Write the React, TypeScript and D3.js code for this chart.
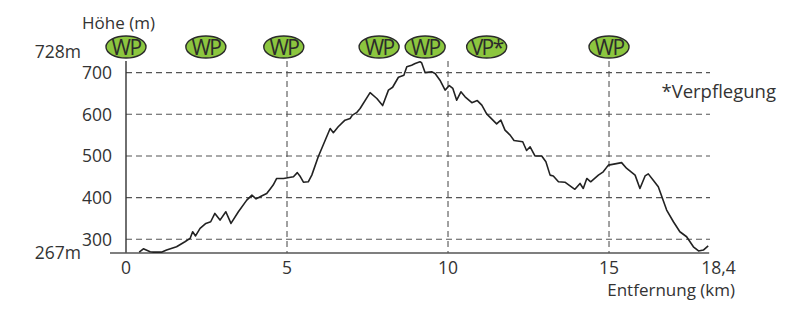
import React from "react";
import * as d3 from "d3";

const distKm = [0.41, 0.54, 0.75, 0.85, 1.1, 1.26, 1.57, 1.83, 1.99, 2.07, 2.16, 2.3, 2.48, 2.63, 2.76, 2.92, 3.1, 3.26, 3.49, 3.75, 3.91, 4.04, 4.21, 4.37, 4.49, 4.57, 4.68, 4.89, 5.2, 5.32, 5.4, 5.51, 5.66, 5.77, 5.97, 6.34, 6.44, 6.59, 6.8, 6.96, 7.03, 7.16, 7.27, 7.58, 7.79, 7.97, 8.15, 8.28, 8.46, 8.63, 8.72, 8.87, 8.98, 9.13, 9.18, 9.29, 9.49, 9.6, 9.75, 9.91, 10.04, 10.15, 10.27, 10.4, 10.53, 10.74, 10.91, 11.05, 11.2, 11.51, 11.64, 11.77, 11.93, 12.05, 12.32, 12.44, 12.55, 12.7, 12.91, 13.04, 13.17, 13.27, 13.43, 13.63, 13.94, 14.1, 14.2, 14.31, 14.43, 14.67, 14.82, 14.98, 15.19, 15.39, 15.55, 15.81, 15.96, 16.12, 16.22, 16.38, 16.53, 16.79, 17.0, 17.2, 17.41, 17.62, 17.78, 17.93, 18.08];
const elevM = [269, 277, 270, 269, 269, 274, 282, 294, 302, 318, 308, 326, 338, 342, 362, 346, 366, 338, 366, 394, 406, 397, 404, 410, 422, 430, 446, 446, 450, 460, 452, 437, 438, 454, 498, 566, 556, 570, 586, 590, 598, 604, 614, 652, 638, 621, 658, 665, 689, 694, 714, 718, 722, 726, 724, 700, 702, 698, 682, 658, 669, 662, 634, 654, 642, 628, 633, 622, 601, 577, 586, 562, 550, 537, 534, 513, 522, 500, 500, 486, 454, 452, 438, 437, 420, 434, 422, 446, 438, 454, 462, 478, 481, 484, 470, 454, 422, 452, 457, 441, 426, 370, 342, 318, 306, 282, 272, 274, 284];

const yTicks = [300, 400, 500, 600, 700];
const xGridKm = [5, 10, 15];
const xTicks = [0, 5, 10, 15, 18.4];
const xTickLabels = ["0", "5", "10", "15", "18,4"];
const badgeKm = [0, 2.48, 4.9, 7.86, 9.29, 11.2, 15.0];
const badgeLabels = ["WP", "WP", "WP", "WP", "WP", "VP*", "WP"];

const W = 789;
const H = 311;
const FONT = "'Open Sans', 'Noto Sans', sans-serif";
const TXT = "#333";

export default function App() {
  const x = d3.scaleLinear().domain([0, 18.4]).range([126, 718.5]);
  const y = d3.scaleLinear().domain([267, 728]).range([253, 61]);
  const pts: [number, number][] = distKm.map((d, i) => [d, elevM[i]]);
  const line = d3
    .line<[number, number]>()
    .x((d) => x(d[0]))
    .y((d) => y(d[1]))
    .curve(d3.curveLinear);
  const xEnd = x(distKm[distKm.length - 1]) + 1;
  const gridRight = 710;

  return (
    <svg
      width={W}
      height={H}
      style={{ position: "absolute", left: 0, top: 0, background: "#fff" }}
      fontFamily={FONT}
    >
      {yTicks.map((t) => (
        <line
          key={"h" + t}
          x1={x(0)}
          x2={gridRight}
          y1={y(t)}
          y2={y(t)}
          stroke="#555"
          strokeWidth={1.1}
          strokeDasharray="6,4"
        />
      ))}
      {xGridKm.map((k) => (
        <line
          key={"v" + k}
          x1={x(k)}
          x2={x(k)}
          y1={y(728)}
          y2={y(267)}
          stroke="#555"
          strokeWidth={1.1}
          strokeDasharray="6,4"
        />
      ))}
      <line x1={x(0)} x2={x(0)} y1={y(728)} y2={y(267)} stroke="#333" strokeWidth={1.4} />
      <line x1={110} x2={xEnd} y1={y(267)} y2={y(267)} stroke="#555" strokeWidth={1.6} />

      <path
        d={line(pts) || ""}
        fill="none"
        stroke="#222"
        strokeWidth={1.6}
        strokeLinejoin="round"
      />

      {yTicks.map((t) => (
        <text key={"yl" + t} x={112} y={y(t) + 6.5} textAnchor="end" fontSize={17.5} fill={TXT}>
          {t}
        </text>
      ))}
      <text x={81} y={57.5} textAnchor="end" fontSize={17.5} fill={TXT}>
        728m
      </text>
      <text x={81} y={259} textAnchor="end" fontSize={17.5} fill={TXT}>
        267m
      </text>
      <text x={82} y={29} fontSize={17} fill={TXT}>
        Höhe (m)
      </text>

      {xTicks.map((k, i) => (
        <text key={"xl" + k} x={x(k)} y={274} textAnchor="middle" fontSize={17.5} fill={TXT}>
          {xTickLabels[i]}
        </text>
      ))}
      <text x={735} y={296} textAnchor="end" fontSize={17} fill={TXT}>
        Entfernung (km)
      </text>
      <text x={776} y={98} textAnchor="end" fontSize={18.5} fill={TXT}>
        *Verpflegung
      </text>

      {badgeKm.map((k, i) => (
        <g key={"b" + i} transform={`translate(${x(k)},47)`}>
          <ellipse rx={20} ry={11} fill="#8cc63f" stroke="#2b2b2b" strokeWidth={1.4} />
          <text
            x={0}
            y={7.5}
            textAnchor="middle"
            fontSize={21}
            fill="#2b2b2b"
            letterSpacing={-1.6}
          >
            {badgeLabels[i]}
          </text>
        </g>
      ))}
    </svg>
  );
}
